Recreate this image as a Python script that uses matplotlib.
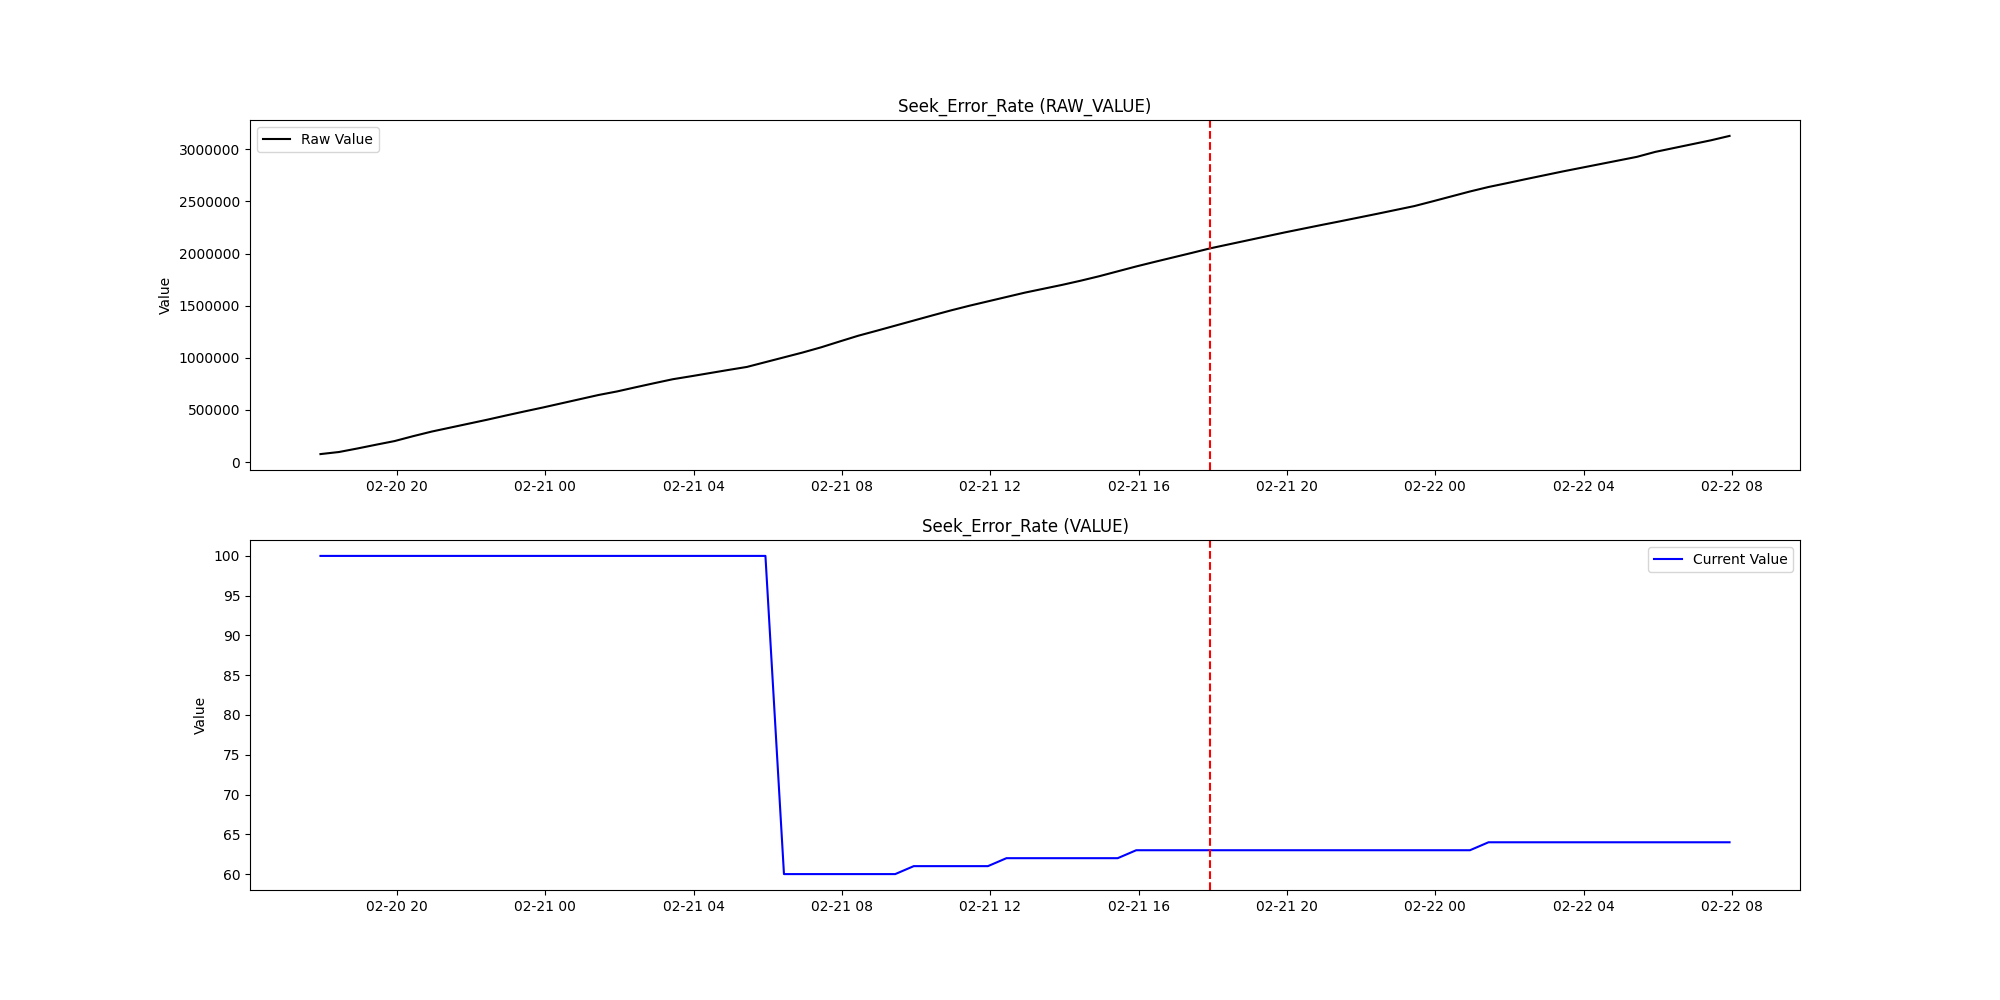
import matplotlib
matplotlib.use("Agg")
import matplotlib.pyplot as plt
import matplotlib.dates as mdates
import pandas as pd

# --- data ---
start_time = "2021-02-20 17:56"
sample_interval = "30min"
event_time = "2021-02-21 17:55"

raw_values = [
    76000, 96000, 130000, 166000, 201000, 248000, 292000, 330000, 368000, 406000,
    446000, 485000, 523000, 563000, 603000, 643000, 677000, 717000, 756000, 794000,
    823000, 853000, 883000, 912000, 958000, 1004000, 1050000, 1100000, 1156000, 1211000,
    1259000, 1308000, 1357000, 1406000, 1454000, 1499000, 1541000, 1583000, 1625000, 1662000,
    1699000, 1739000, 1782000, 1829000, 1876000, 1920000, 1963000, 2006000, 2050000, 2088000,
    2126000, 2164000, 2202000, 2238000, 2274000, 2309000, 2345000, 2381000, 2418000, 2455000,
    2501000, 2548000, 2595000, 2638000, 2675000, 2713000, 2750000, 2787000, 2822000, 2857000,
    2892000, 2927000, 2975000, 3012000, 3049000, 3086000, 3128000,
]

current_values = (
    [100] * 25 +
    [60] * 7 +
    [61] * 5 +
    [62] * 7 +
    [63] * 19 +
    [64] * 14
)

times = pd.date_range(start=start_time, periods=len(raw_values), freq=sample_interval)
event = pd.Timestamp(event_time)

fig, (ax1, ax2) = plt.subplots(2, 1, figsize=(20, 10), dpi=100)

ax1.plot(times, raw_values, color="black", label="Raw Value")
ax1.axvline(event, color="red", linestyle="--")
ax1.set_title("Seek_Error_Rate (RAW_VALUE)")
ax1.set_ylabel("Value")
ax1.legend(loc="upper left")
ax1.ticklabel_format(style="plain", axis="y", useOffset=False)

ax2.plot(times, current_values, color="blue", label="Current Value")
ax2.axvline(event, color="red", linestyle="--")
ax2.set_title("Seek_Error_Rate (VALUE)")
ax2.set_ylabel("Value")
ax2.legend(loc="upper right")

for ax in (ax1, ax2):
    ax.xaxis.set_major_locator(mdates.HourLocator(byhour=range(0, 24, 4)))
    ax.xaxis.set_major_formatter(mdates.DateFormatter("%m-%d %H"))

fig.savefig("out.png", dpi=100)
